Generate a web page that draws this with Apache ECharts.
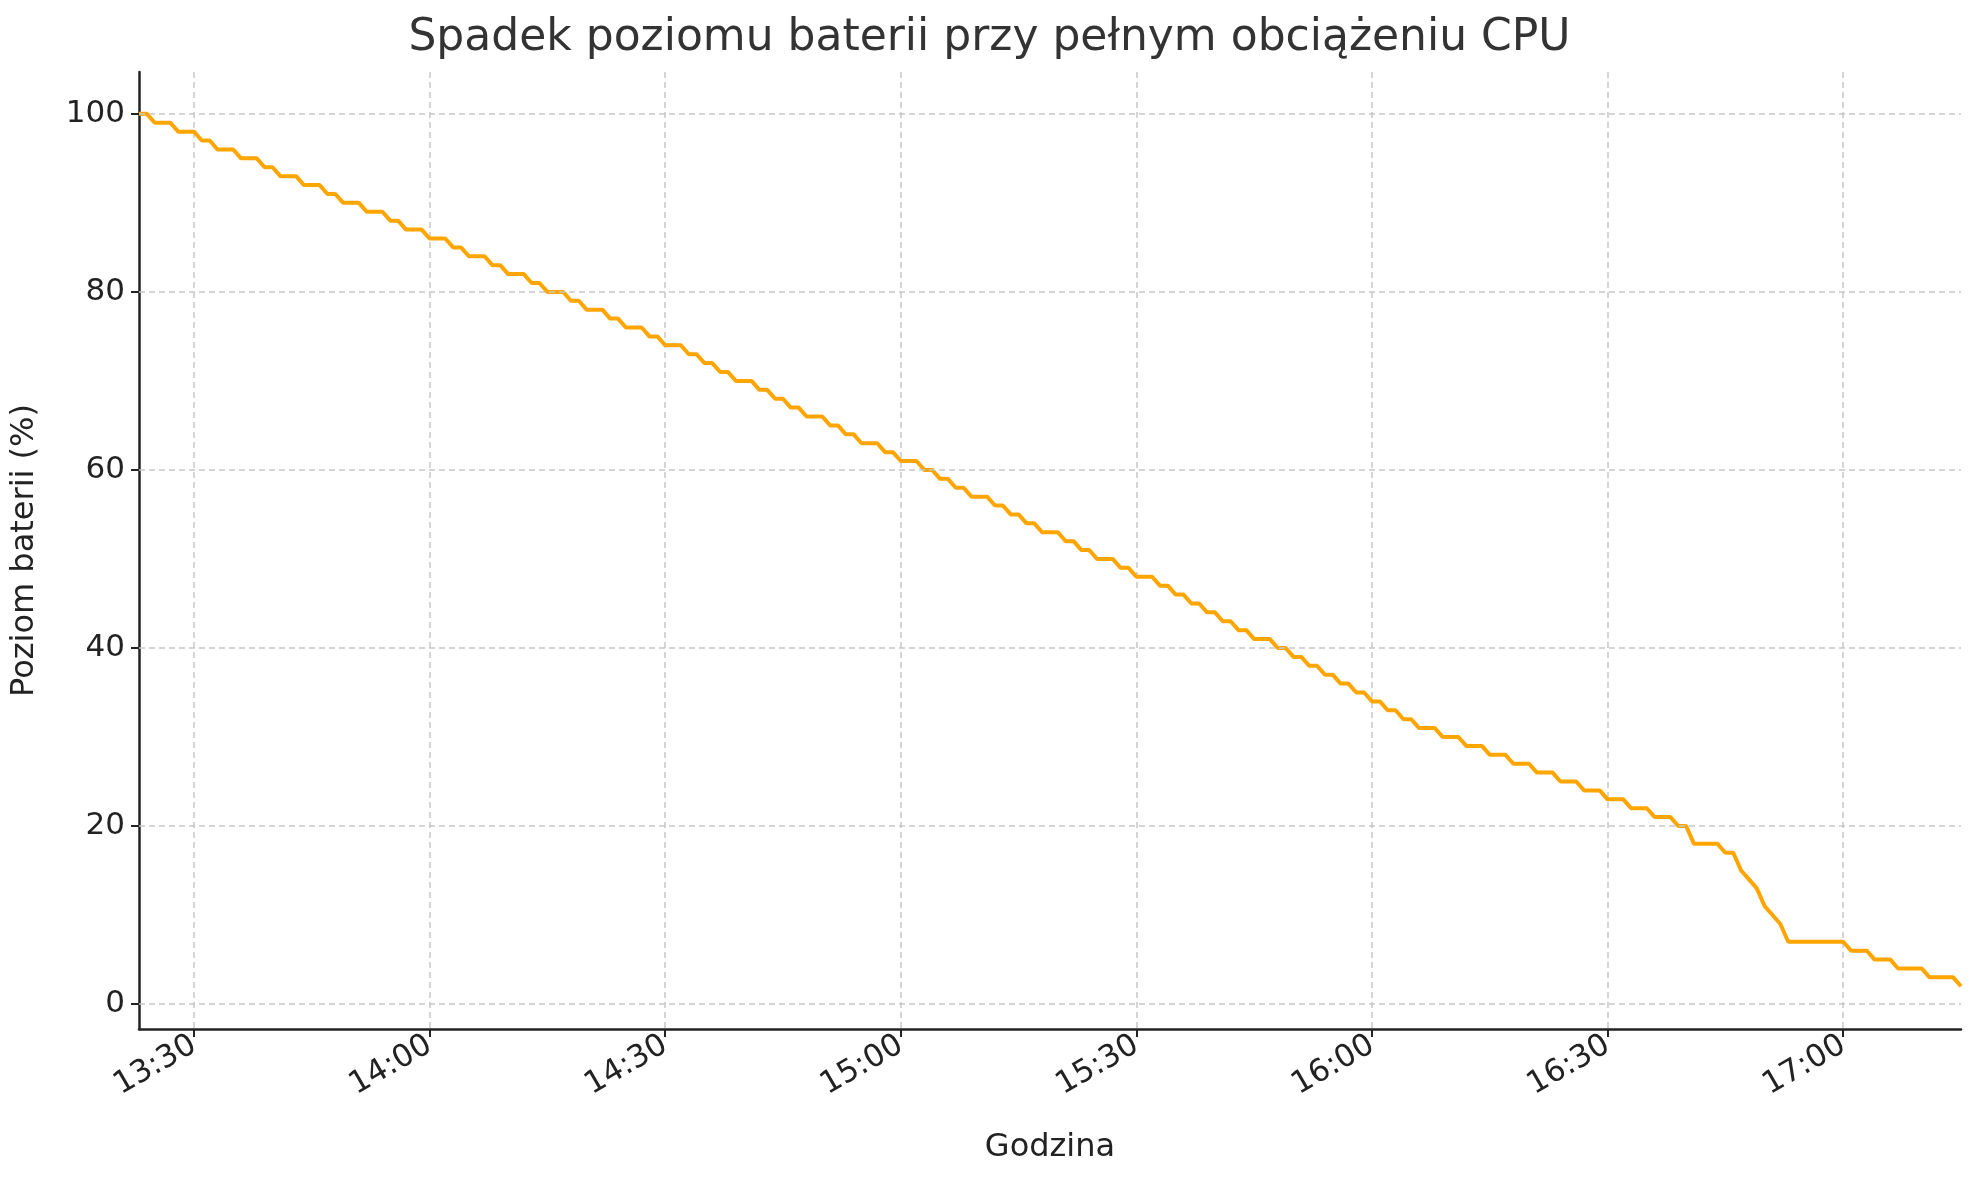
<!DOCTYPE html>
<html><head><meta charset="utf-8">
<script src="https://cdn.jsdelivr.net/npm/echarts@6/dist/echarts.min.js"></script>
<style>html,body{margin:0;padding:0;background:#fff}#c{width:1979px;height:1180px}</style>
</head><body><div id="c"></div>
<script>
const startTime = "13:23";
const batteryLevel = [
100,100,99,99,99,98,98,98,97,97,96,96,96,95,95,95,94,94,93,93,93,92,92,92,91,91,90,90,90,89,89,89,88,88,87,87,87,
86,86,86,85,85,84,84,84,83,83,82,82,82,81,81,80,80,80,79,79,78,78,78,77,77,76,76,76,75,75,
74,74,74,73,73,72,72,71,71,70,70,70,69,69,68,68,67,67,66,66,66,65,65,64,64,63,63,63,62,62,
61,61,61,60,60,59,59,58,58,57,57,57,56,56,55,55,54,54,53,53,53,52,52,51,51,50,50,50,49,49,
48,48,48,47,47,46,46,45,45,44,44,43,43,42,42,41,41,41,40,40,39,39,38,38,37,37,36,36,35,35,
34,34,33,33,32,32,31,31,31,30,30,30,29,29,29,28,28,28,27,27,27,26,26,26,
25,25,25,24,24,24,23,23,23,22,22,22,21,21,21,20,20,
18,18,18,18,17,17,15,14,13,11,10,9,7,7,7,7,7,7,7,7,
6,6,6,5,5,5,4,4,4,4,3,3,3,3,2
];
const yGridValues = [0,20,40,60,80,100];

const [sh, sm] = startTime.split(':').map(Number);
const times = batteryLevel.map((_, i) => {
  const t = sh*60 + sm + i;
  return String(Math.floor(t/60)).padStart(2,'0') + ':' + String(t%60).padStart(2,'0');
});
const isHalfHour = (idx) => { const m = +times[idx].split(':')[1]; return m % 30 === 0; };

const chart = echarts.init(document.getElementById('c'));
const font = 'DejaVu Sans';
chart.setOption({
  animation:false,
  title:{text:'Spadek poziomu baterii przy pełnym obciążeniu CPU',left:'center',top:12,
    textStyle:{fontFamily:font,fontSize:44,fontWeight:'normal',color:'#333'}},
  grid:{left:139,right:18,top:72,bottom:151},
  xAxis:{type:'category',data:times,boundaryGap:false,
    name:'Godzina',nameLocation:'middle',nameGap:103,
    nameTextStyle:{fontFamily:font,fontSize:32,color:'#222'},
    axisLine:{onZero:false,lineStyle:{color:'#222',width:2.5}},
    axisTick:{interval:isHalfHour,length:8,lineStyle:{color:'#222',width:2}},
    axisLabel:{interval:isHalfHour,rotate:30,fontFamily:font,fontSize:31,color:'#222',margin:14},
    splitLine:{show:true,interval:isHalfHour,lineStyle:{color:'#c8c8c8',type:[6,4],width:1.5}}},
  yAxis:{type:'value',min:-2.8,max:104.7,
    name:'Poziom baterii (%)',nameLocation:'middle',nameGap:98,
    nameTextStyle:{fontFamily:font,fontSize:32,color:'#222'},
    axisLine:{show:true,lineStyle:{color:'#222',width:2.5}},
    axisTick:{show:true,length:8,lineStyle:{color:'#222',width:2}},
    axisLabel:{fontFamily:font,fontSize:31,color:'#222',margin:14,showMinLabel:false,showMaxLabel:false},
    splitLine:{show:false}},
  series:[{type:'line',data:batteryLevel,showSymbol:false,
    lineStyle:{color:'#FFA500',width:4},itemStyle:{color:'#FFA500'},
    markLine:{silent:true,symbol:'none',label:{show:false},
      lineStyle:{color:'#c8c8c8',type:[6,4],width:1.5},
      data:yGridValues.map(v=>({yAxis:v}))}}]
});
</script></body></html>
